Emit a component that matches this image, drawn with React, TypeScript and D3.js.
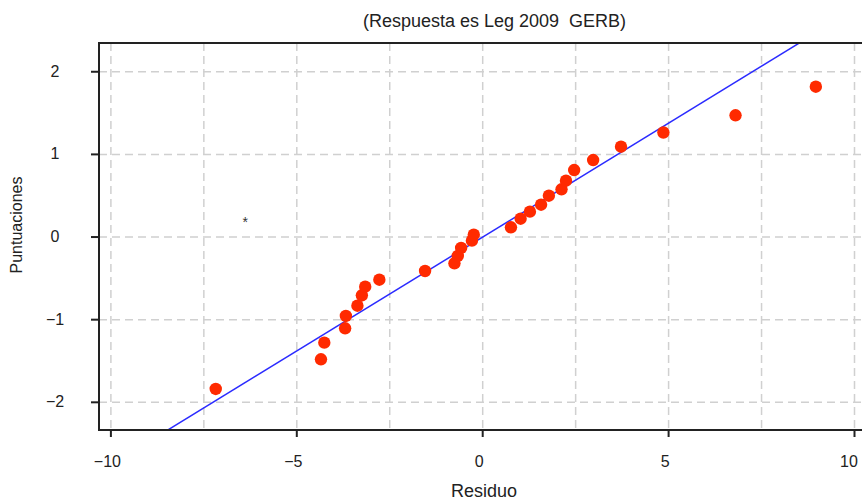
import React from "react";
import * as d3 from "d3";

const residuo: number[] = [
  -7.18, -4.35, -4.26, -3.70, -3.68, -3.37, -3.25, -3.16, -2.78, -1.55,
  -0.76, -0.67, -0.58, -0.29, -0.24, 0.76, 1.02, 1.27, 1.57, 1.78,
  2.12, 2.24, 2.46, 2.97, 3.72, 4.86, 6.80, 8.96,
];
const puntuaciones: number[] = [
  -1.838, -1.479, -1.278, -1.104, -0.955, -0.831, -0.705, -0.601, -0.516, -0.411,
  -0.318, -0.229, -0.132, -0.044, 0.028, 0.118, 0.222, 0.307, 0.391, 0.5,
  0.578, 0.682, 0.811, 0.932, 1.093, 1.265, 1.473, 1.819,
];
const fitSlope = 0.2757;
const fitIntercept = 0.0;
const xTicks: number[] = [-10, -5, 0, 5, 10];
const yTicks: number[] = [-2, -1, 0, 1, 2];
const xGrid: number[] = [-10, -7.5, -5, -2.5, 0, 2.5, 5, 7.5, 10];
const yGrid: number[] = [-2, -1, 0, 1, 2];
const starMark = { x: -6.39, y: 0.215, label: "*" };
const title = "(Respuesta es Leg 2009\u00a0 GERB)";
const xLabel = "Residuo";
const yLabel = "Puntuaciones";

const W = 862;
const H = 502;
const left = 99;
const top = 43;
const right = 866.4;
const bottom = 430;

const fmt = (v: number) => (v < 0 ? "\u2212" + Math.abs(v) : String(v));

export default function App() {
  const x = d3.scaleLinear().domain([-10.32, 10.32]).range([left, right]);
  const y = d3.scaleLinear().domain([-2.335, 2.348]).range([bottom, top]);
  const [x0, x1] = x.domain();
  const linePath = d3.line<number>()
    .x((d) => x(d))
    .y((d) => y(fitSlope * d + fitIntercept))([x0, x1]) as string;
  const font = "Liberation Sans, Arial, Helvetica, sans-serif";
  const axisColor = "#222";
  return (
    <div style={{ position: "absolute", left: 0, top: 0 }}>
      <svg width={W} height={H} style={{ display: "block", background: "#fff" }} fontFamily={font}>
        <defs>
          <clipPath id="plotclip">
            <rect x={left} y={top} width={right - left} height={bottom - top} />
          </clipPath>
        </defs>
        <rect x={0} y={0} width={W} height={H} fill="#fff" />
        <g stroke="#d0d0d0" strokeWidth={1.5} strokeDasharray="8,5" fill="none">
          {xGrid.map((v) => (
            <line key={"gx" + v} x1={x(v)} x2={x(v)} y1={top} y2={bottom} />
          ))}
          {yGrid.map((v) => (
            <line key={"gy" + v} x1={left} x2={right} y1={y(v)} y2={y(v)} />
          ))}
        </g>
        <g clipPath="url(#plotclip)">
          <path d={linePath} stroke="#2b2bff" strokeWidth={1.5} fill="none" />
          {residuo.map((v, i) => (
            <circle key={"p" + i} cx={x(v)} cy={y(puntuaciones[i])} r={6.2} fill="#ff2a00" />
          ))}
        </g>
        <text
          x={x(starMark.x)}
          y={y(starMark.y) + 8}
          fontSize={14}
          textAnchor="middle"
          fill="#333"
        >
          {starMark.label}
        </text>
        <g stroke={axisColor} strokeWidth={2} fill="none">
          <line x1={left} x2={left} y1={top - 1} y2={bottom + 1} />
          <line x1={left - 1} x2={W} y1={top} y2={top} />
          <line x1={left - 1} x2={W} y1={bottom} y2={bottom} />
          {xTicks.map((v) => (
            <line key={"tx" + v} x1={x(v)} x2={x(v)} y1={bottom} y2={bottom + 7} />
          ))}
          {yTicks.map((v) => (
            <line key={"ty" + v} x1={left - 8} x2={left} y1={y(v)} y2={y(v)} />
          ))}
        </g>
        <g fontSize={16} fill="#222">
          {xTicks.map((v) => (
            <text key={"lx" + v} x={Math.min(x(v) - 3.5, W - 13)} y={467} textAnchor="middle">
              {fmt(v)}
            </text>
          ))}
          {yTicks.map((v) => (
            <text key={"ly" + v} x={55} y={y(v) + 5} textAnchor="middle">
              {fmt(v)}
            </text>
          ))}
        </g>
        <text x={494.5} y={27} fontSize={18} textAnchor="middle" fill="#222">
          {title}
        </text>
        <text x={484} y={497} fontSize={18} textAnchor="middle" fill="#222">
          {xLabel}
        </text>
        <text
          transform={`translate(22, 225) rotate(-90)`}
          fontSize={16}
          textAnchor="middle"
          fill="#222"
        >
          {yLabel}
        </text>
      </svg>
    </div>
  );
}
